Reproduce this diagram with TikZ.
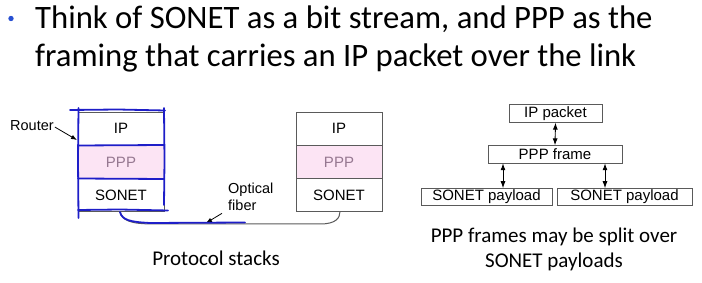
\documentclass[tikz,border=0pt]{standalone}
\usepackage{fontspec}
\setmainfont{Carlito}
\newfontfamily\arialf{Liberation Sans}
\usetikzlibrary{arrows.meta}
\definecolor{stackgray}{RGB}{90,90,90}
\definecolor{pppfill}{RGB}{252,228,244}
\definecolor{ppptext}{RGB}{150,120,145}
\definecolor{penblue}{RGB}{30,30,200}
\definecolor{bulletblue}{RGB}{40,80,210}
\tikzset{
  layer/.style={draw=stackgray, line width=0.8pt, minimum width=86pt, minimum height=33pt, inner sep=0pt, font=\arialf\fontsize{15}{15}\selectfont},
  ppplayer/.style={layer, fill=pppfill, text=ppptext},
  fbox/.style={draw=stackgray, line width=0.8pt, inner sep=0pt, minimum height=17.5pt, font=\arialf\fontsize{15}{15}\selectfont},
  lbl/.style={font=\arialf\fontsize{14.5}{15}\selectfont, inner sep=0pt},
  captext/.style={font=\fontsize{21}{25}\selectfont, inner sep=0pt, align=center},
  dbl/.style={{Latex[length=7pt,width=5pt]}-{Latex[length=7pt,width=5pt]}, line width=0.9pt},
  pen/.style={penblue, line width=1.8pt, line cap=round, line join=round},
}
\begin{document}
\begin{tikzpicture}[x=1pt,y=-1pt]
\useasboundingbox (0,0) rectangle (702,283);
% title
\fill[bulletblue] (11,18.5) circle (2.7pt);
\node[anchor=base west, inner sep=0pt, font=\fontsize{32.7}{38}\selectfont] (t1) at (35,29) {Think of SONET as a bit stream, and PPP as the};
\node[anchor=base west, inner sep=0pt, font=\fontsize{32.7}{38}\selectfont] (t2) at (35,67) {framing that carries an IP packet over the link};
% left stack
\node[layer] (lip) at (121,128.5) {IP};
\node[ppplayer] (lppp) at (121,162) {PPP};
\node[layer] (lson) at (121,195) {SONET};
% right stack
\node[layer] (rip) at (339,128.5) {IP};
\node[ppplayer] (rppp) at (339,162) {PPP};
\node[layer] (rson) at (339,195) {SONET};
% fiber
\coordinate (fa) at (120,211.5);
\coordinate (fb) at (340,211.5);
\draw[stackgray, line width=1pt] (fa) .. controls (122,224) and (140,224) .. (160,224) -- (320,224) .. controls (336,224) and (340,218) .. (fb);
% labels
\node[lbl, anchor=base west] (router) at (10,131) {Router};
\coordinate (rtip) at (77,140);
\draw[-{Latex[length=6pt,width=4.5pt]}, line width=0.8pt] ([xshift=1pt,yshift=-1pt]router.east) -- (rtip);
\node[lbl, anchor=base west] (opt) at (228,194) {Optical};
\node[lbl, anchor=base west] (fib) at (228,211) {fiber};
\coordinate (fibtip) at (206,223);
\draw[-{Latex[length=6pt,width=4.5pt]}, line width=0.8pt] ([xshift=-6pt,yshift=-2pt]fib.south west) -- (fibtip);
% blue pen annotations
\draw[pen] (70,110) -- (118,109.5) -- (165,110.5);
\draw[pen] (78.5,108) -- (78,160) -- (78.5,218);
\draw[pen] (164,108) -- (164.5,160) -- (164,205);
\draw[pen] (78,145.5) -- (164,145);
\draw[pen] (78,178.5) -- (164,179);
\draw[pen] (78,210) -- (120,209.5) -- (168,210.5);
\draw[pen] (120,212) .. controls (122,220) and (130,222) .. (150,223) -- (245,222.5);
\node[captext] (ps) at (216,258) {Protocol stacks};
% right diagram
\node[fbox, minimum width=93pt] (ipp) at (555.5,113.5) {IP packet};
\node[fbox, minimum width=134pt] (pppf) at (555,154.5) {PPP frame};
\node[fbox, minimum width=131pt] (sp1) at (486.5,197) {SONET payload};
\node[fbox, minimum width=135pt] (sp2) at (624.5,197) {SONET payload};
\coordinate (a1s) at (503,163.25);
\coordinate (a1e) at (503,188.25);
\coordinate (a2s) at (605,163.25);
\coordinate (a2e) at (605,188.25);
\draw[dbl] (ipp.south) -- (pppf.north);
\draw[dbl] (a1s) -- (a1e);
\draw[dbl] (a2s) -- (a2e);
\node[captext] (split) at (554,249) {PPP frames may be split over\\SONET payloads};
\end{tikzpicture}
\end{document}
